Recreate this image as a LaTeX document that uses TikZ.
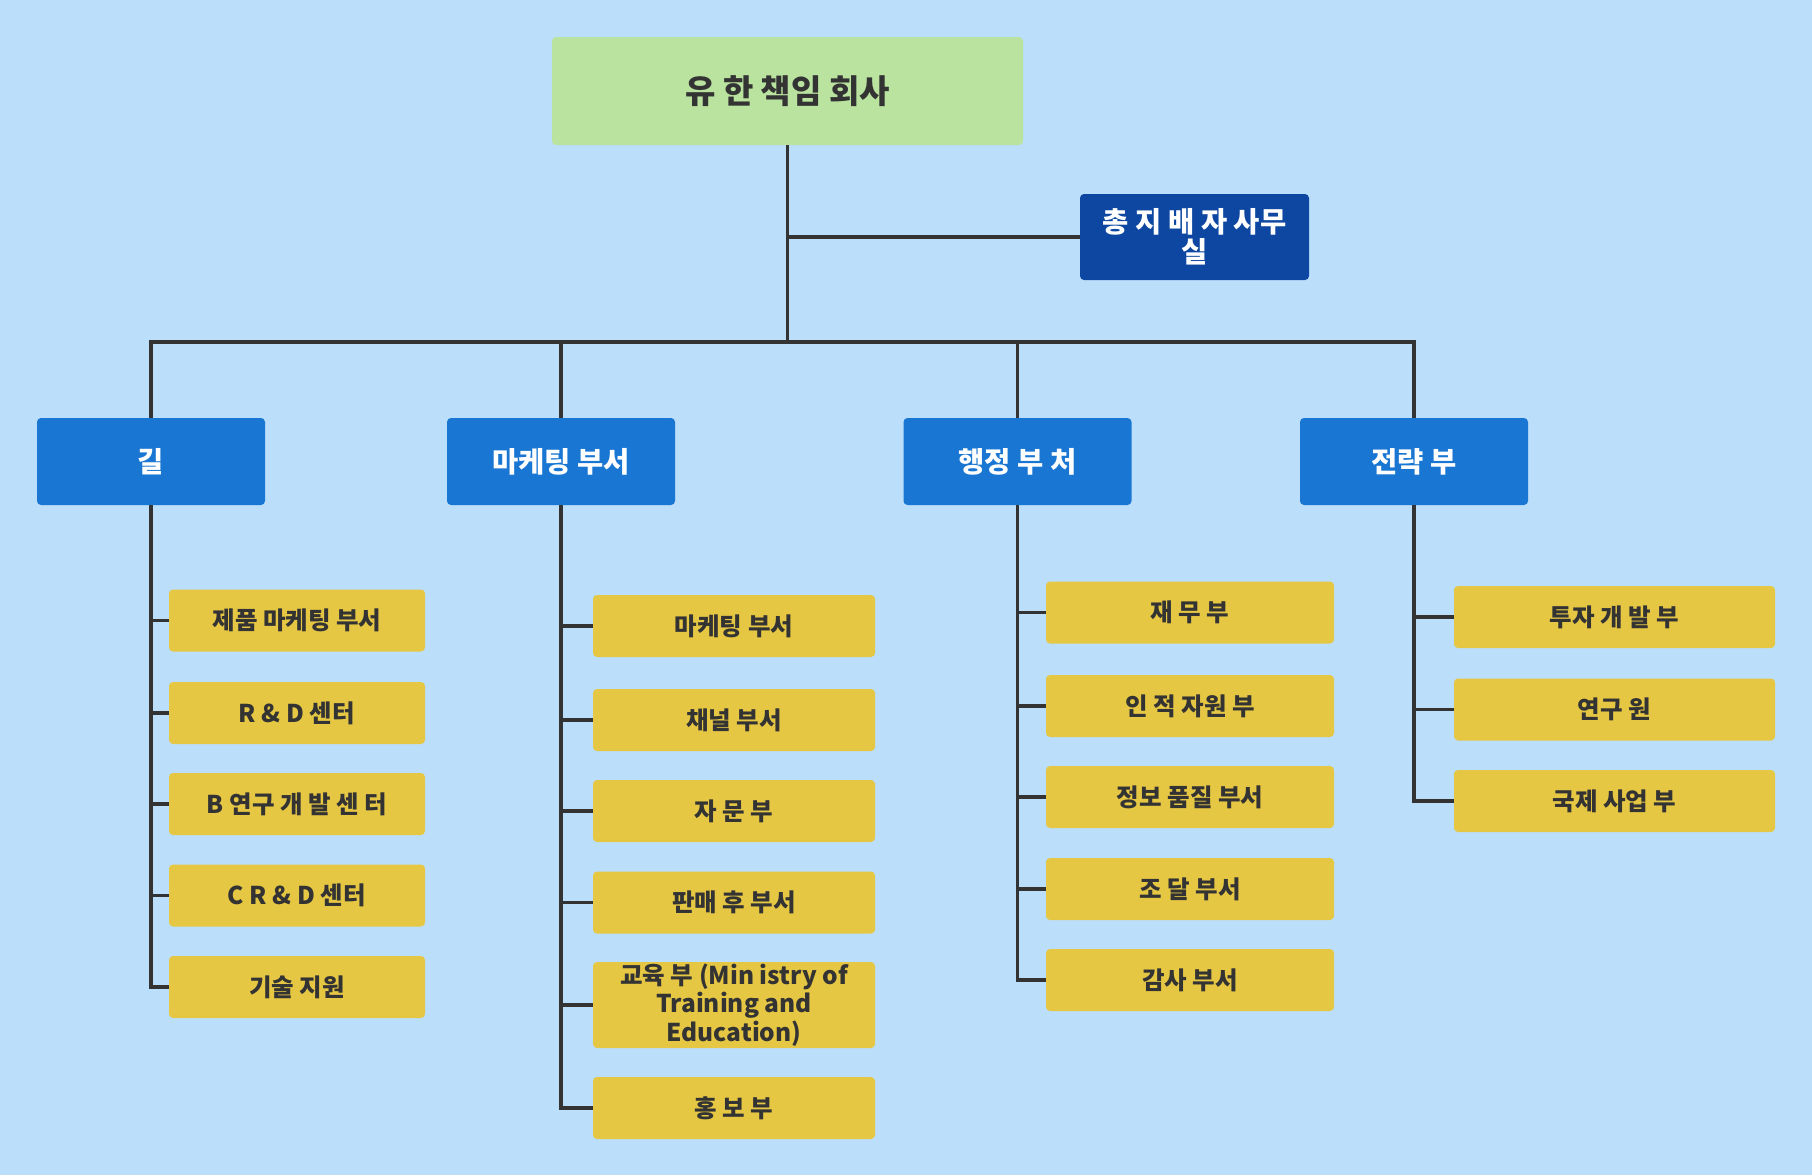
\documentclass[tikz,border=0pt]{standalone}
\usepackage{fontspec}
\setmainfont{Noto Sans CJK KR}
\usepackage{tikz}
\usetikzlibrary{positioning}
\definecolor{pagebg}{HTML}{BBDEFA}
\definecolor{rootgreen}{HTML}{B9E39F}
\definecolor{officeblue}{HTML}{0D47A1}
\definecolor{deptblue}{HTML}{1976D2}
\definecolor{unityellow}{HTML}{E6C744}
\definecolor{inkgray}{HTML}{333333}
\tikzset{
    x=1pt, y=-1pt,
    company/.style={
        rectangle,
        rounded corners=4pt,
        fill=rootgreen,
        text=inkgray,
        minimum width=471pt,
        minimum height=108pt,
        inner sep=0pt,
        font={\fontsize{33pt}{37pt}\selectfont\bfseries}
    },
    office/.style={
        rectangle,
        rounded corners=4pt,
        fill=officeblue,
        text=white,
        minimum width=229pt,
        minimum height=86pt,
        inner sep=0pt,
        align=center,
        font={\fontsize{28.5pt}{30pt}\selectfont\bfseries}
    },
    dept/.style={
        rectangle,
        rounded corners=4pt,
        fill=deptblue,
        text=white,
        minimum width=228pt,
        minimum height=87pt,
        inner sep=0pt,
        font={\fontsize{28.5pt}{32pt}\selectfont\bfseries}
    },
    unit/.style={
        rectangle,
        rounded corners=4pt,
        fill=unityellow,
        text=inkgray,
        minimum height=62pt,
        inner sep=0pt,
        align=center,
        font={\fontsize{24.5pt}{28.3pt}\selectfont\bfseries}
    },
    link/.style={draw=inkgray, line width=3.5pt},
}

\begin{document}
\begin{tikzpicture}
\fill[pagebg] (0,0) rectangle (1812,1175);
\useasboundingbox (0,0) rectangle (1812,1175);
\tikzstyle{gilunit} = [unit, minimum width=256pt]
\tikzstyle{mktunit} = [unit, minimum width=282pt]
\tikzstyle{admunit} = [unit, minimum width=288pt]
\tikzstyle{strunit} = [unit, minimum width=321pt]

% Top
\node[company] (root) at (787.5,91) {유 한 책임 회사};
\node[office] (office) at (1194.5,237) {총 지 배 자 사무\\실};
\coordinate (bus) at (787.5,342);

% Departments
\node[dept] (gil) at (151,461.5) {길};
\node[dept] (mkt) at (561,461.5) {마케팅 부서};
\node[dept] (adm) at (1017.5,461.5) {행정 부 처};
\node[dept] (str) at (1414,461.5) {전략 부};

% Units under 길
\node[gilunit] (gil1) at (297,620.5) {제품 마케팅 부서};
\node[gilunit] (gil2) at (297,713) {R \& D 센터};
\node[gilunit] (gil3) at (297,804) {B 연구 개 발 센 터};
\node[gilunit] (gil4) at (297,895.5) {C R \& D 센터};
\node[gilunit] (gil5) at (297,987) {기술 지원};

% Units under 마케팅 부서
\node[mktunit] (mkt1) at (734,626) {마케팅 부서};
\node[mktunit] (mkt2) at (734,720) {채널 부서};
\node[mktunit] (mkt3) at (734,811) {자 문 부};
\node[mktunit] (mkt4) at (734,902.5) {판매 후 부서};
\node[mktunit, minimum height=86pt] (mkt5) at (734,1005) {교육 부 (Min istry of\\Training and\\Education)};
\node[mktunit] (mkt6) at (734,1108) {홍 보 부};

% Units under 행정 부 처
\node[admunit] (adm1) at (1190,612.5) {재 무 부};
\node[admunit] (adm2) at (1190,706) {인 적 자원 부};
\node[admunit] (adm3) at (1190,797) {정보 품질 부서};
\node[admunit] (adm4) at (1190,889) {조 달 부서};
\node[admunit] (adm5) at (1190,980) {감사 부서};

% Units under 전략 부
\node[strunit] (str1) at (1614.5,617) {투자 개 발 부};
\node[strunit] (str2) at (1614.5,709.5) {연구 원};
\node[strunit] (str3) at (1614.5,801) {국제 사업 부};

% Trunk and bus
\draw[link] (root) -- (bus);
\draw[link] (root) |- (office);
\draw[link] (gil.north) |- (bus);
\draw[link] (mkt.north) |- (bus);
\draw[link] (adm.north) |- (bus);
\draw[link] (str.north) |- (bus);

% Unit links
\draw[link] (gil.south) |- (gil1.west);
\draw[link] (gil.south) |- (gil2.west);
\draw[link] (gil.south) |- (gil3.west);
\draw[link] (gil.south) |- (gil4.west);
\draw[link] (gil.south) |- (gil5.west);
\draw[link] (mkt.south) |- (mkt1.west);
\draw[link] (mkt.south) |- (mkt2.west);
\draw[link] (mkt.south) |- (mkt3.west);
\draw[link] (mkt.south) |- (mkt4.west);
\draw[link] (mkt.south) |- (mkt5.west);
\draw[link] (mkt.south) |- (mkt6.west);
\draw[link] (adm.south) |- (adm1.west);
\draw[link] (adm.south) |- (adm2.west);
\draw[link] (adm.south) |- (adm3.west);
\draw[link] (adm.south) |- (adm4.west);
\draw[link] (adm.south) |- (adm5.west);
\draw[link] (str.south) |- (str1.west);
\draw[link] (str.south) |- (str2.west);
\draw[link] (str.south) |- (str3.west);
\end{tikzpicture}
\end{document}
